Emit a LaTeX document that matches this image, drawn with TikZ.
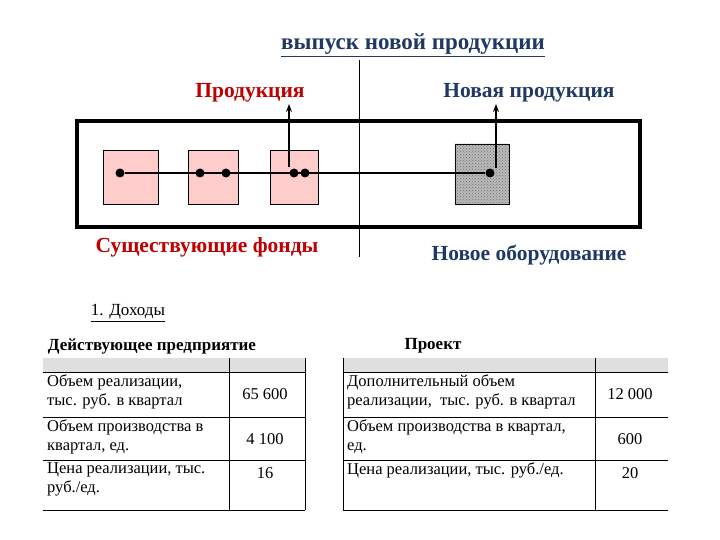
\documentclass[tikz,border=0pt]{standalone}
\usepackage{fontspec}
\setmainfont{Liberation Serif}
\usetikzlibrary{patterns,arrows.meta}
\definecolor{navy}{HTML}{203864}
\definecolor{dred}{HTML}{C00000}
\begin{document}
\begin{tikzpicture}[x=1pt,y=-1pt,
  sq/.style={draw=black,fill=red!20,line width=0.8pt},
  dot/.style={circle,fill=black,inner sep=0pt,minimum size=9pt},
  cell/.style={font=\fontsize{16.5}{19}\selectfont,align=left,anchor=north west,inner sep=0pt},
  val/.style={font=\fontsize{16.5}{19}\selectfont,inner sep=0pt},
  lbl/.style={font=\bfseries\fontsize{21.5}{24}\selectfont,inner sep=0pt},
  arr/.style={line width=1.2pt,-{Stealth[length=8pt,width=6pt]}}]
\useasboundingbox (0,0) rectangle (720,540);
\node[lbl,text=navy,font=\bfseries\fontsize{23}{25}\selectfont] (title) at (413,45) {\underline{выпуск новой продукции}};
\draw[line width=0.8pt] (359,60) -- (359,257);
\node[lbl,text=dred] (prod) at (250,93) {Продукция};
\node[lbl,text=navy] (newprod) at (529,93) {Новая продукция};
\draw[line width=3.5pt] (77,121) rectangle (640,227);
\node[sq,minimum width=55pt,minimum height=54pt] (s1) at (130.5,177) {};
\node[sq,minimum width=50pt,minimum height=54pt] (s2) at (213,177) {};
\node[sq,minimum width=48pt,minimum height=54pt] (s3) at (294,177) {};
\node[draw=black,fill=gray!55,minimum width=54pt,minimum height=60pt] (s4) at (482,174) {};
\fill[pattern=crosshatch dots,pattern color=gray!90!black] (s4.south west) rectangle (s4.north east);
\node[dot] (d1) at (120,173) {};
\node[dot] (d2) at (200,173) {};
\node[dot] (d3) at (226,173) {};
\node[dot] (d4) at (294,173) {};
\node[dot] (d5) at (305,173) {};
\node[dot] (d6) at (490,173) {};
\draw[line width=1.2pt] (d1) -- (d6);
\coordinate (a1) at (289,104);
\coordinate (a2) at (496,104);
\draw[arr] (289,167) -- (a1);
\draw[arr] (496,168) -- (a2);
\node[lbl,text=dred] (exist) at (207,247) {Существующие фонды};
\node[lbl,text=navy] (neweq) at (529,255) {Новое оборудование};
\node[font=\fontsize{17}{19}\selectfont] (inc) at (128,313) {\underline{1. Доходы}};
\node[font=\bfseries\fontsize{17}{19}\selectfont] (h1) at (152,346) {Действующее предприятие};
\node[font=\bfseries\fontsize{17}{19}\selectfont] (h2) at (433,346) {Проект};
\fill[gray!25] (43,358) rectangle (305,372);
\fill[gray!25] (343,358) rectangle (668,372);
\foreach \y in {372,417,460,510} {
  \draw[line width=0.8pt] (43,\y) -- (305,\y);
  \draw[line width=0.8pt] (343,\y) -- (668,\y);
}
\foreach \x in {229,305,343,595} \draw[line width=0.8pt] (\x,358) -- (\x,510);
\node[cell] (l1) at (47,374) {Объем реализации,\\тыс. руб. в квартал};
\node[cell] (l2) at (47,419) {Объем производства в\\квартал, ед.};
\node[cell] (l3) at (47,462) {Цена реализации, тыс.\\руб./ед.};
\node[val] (v1) at (265,394) {65 600};
\node[val] (v2) at (265,439) {4 100};
\node[val] (v3) at (265,473) {16};
\node[cell] (r1) at (347,374) {Дополнительный объем\\реализации,\ \ тыс. руб. в квартал};
\node[cell] (r2) at (347,419) {Объем производства в квартал,\\ед.};
\node[cell] (r3) at (347,462) {Цена реализации, тыс. руб./ед.};
\node[val] (w1) at (630,394) {12 000};
\node[val] (w2) at (630,439) {600};
\node[val] (w3) at (630,473) {20};
\end{tikzpicture}
\end{document}
